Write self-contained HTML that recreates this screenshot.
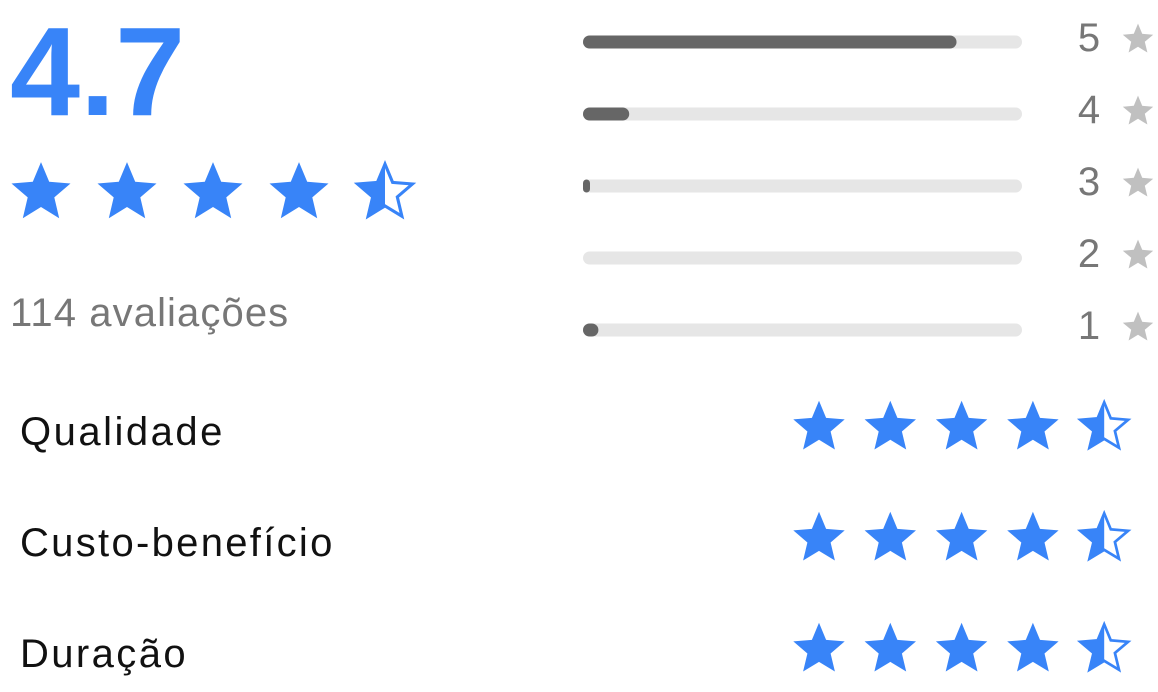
<!DOCTYPE html>
<html><head><meta charset="utf-8"><style>
body{margin:0;width:1158px;height:692px;background:#fff;overflow:hidden;font-family:"Liberation Sans",sans-serif;position:relative}
.t{position:absolute;white-space:nowrap}
</style></head><body>
<div class="t" style="left:10px;top:2px;font-size:126px;font-weight:bold;color:#3884f8;letter-spacing:0px;line-height:140px">4.7</div>
<div class="t" style="left:10px;top:289px;font-size:40px;color:#777;line-height:48px;letter-spacing:1.1px">114 avaliações</div>
<div class="t" style="left:20px;top:408px;font-size:40px;color:#111;line-height:48px;letter-spacing:2.5px">Qualidade</div>
<div class="t" style="left:20px;top:519px;font-size:40px;color:#111;line-height:48px;letter-spacing:2.3px">Custo-benefício</div>
<div class="t" style="left:20px;top:630px;font-size:40px;color:#111;line-height:48px;letter-spacing:2.4px">Duração</div>
<svg id="chart" width="1158" height="692" style="position:absolute;left:0;top:0"></svg>
<script>
const starLevels=[5,4,3,2,1];
const starCounts=[97,12,1,0,4];
const totalReviews=114;
const averageRating=4.5;
const aspectRatings=[4.5,4.5,4.5];
const NS="http://www.w3.org/2000/svg";
const svg=document.getElementById('chart');
function mk(tag,attrs,parent){const e=document.createElementNS(NS,tag);for(const k in attrs)e.setAttribute(k,attrs[k]);(parent||svg).appendChild(e);return e;}
function starPts(cx,cy,r){let p=[];for(let i=0;i<10;i++){const a=-Math.PI/2+i*Math.PI/5;const rr=i%2?r*0.45:r;p.push((cx+rr*Math.cos(a)).toFixed(1)+','+(cy+rr*Math.sin(a)+r*0.1).toFixed(1));}return p.join(' ');}
let clipId=0;
function drawStar(cx,cy,r,fill,color,name){
  const g=mk('g',{});
  
  
  if(fill>=1){mk('polygon',{points:starPts(cx,cy,r),fill:color},g);}
  else{
    const id='c'+(clipId++);
    const cp=mk('clipPath',{id:id},g);
    mk('rect',{x:cx-r,y:cy-r*1.2,width:2*r*fill,height:r*2.6},cp);
    mk('polygon',{points:starPts(cx,cy,r*0.93),fill:'none',stroke:color,'stroke-width':r*0.1},g);
    mk('polygon',{points:starPts(cx,cy,r),fill:color,'clip-path':'url(#'+id+')'},g);
  }
}
for(let i=0;i<5;i++){drawStar(41+i*86,190,31,Math.max(0,Math.min(1,averageRating-i)),'#3884f8','summary-star');}
const x0=583,trackW=439,bh=13;
const xScale=v=>trackW*v/totalReviews;
starLevels.forEach((lv,i)=>{
  const cy=42+i*72;
  const track=mk('rect',{x:x0,y:cy-bh/2,width:trackW,height:bh,rx:bh/2,fill:'#e6e6e6'});
  
  
  const c=starCounts[i];
  if(c>0){
    const w=Math.max(7,xScale(c));
    const bar=mk('rect',{x:x0,y:cy-bh/2,width:w,height:bh,rx:Math.min(bh/2,w/2),fill:'#666'});
    
    
  }
  const t=mk('text',{x:1089,y:cy+9,'font-size':40,fill:'#777','text-anchor':'middle','font-family':'Liberation Sans, sans-serif'});
  t.textContent=lv;
  
  
  drawStar(1138,cy-4,16,1,'#c0c0c0','level-star-'+lv);
});
aspectRatings.forEach((r,j)=>{
  const cy=425+j*111;
  for(let i=0;i<5;i++){drawStar(819+i*71.3,cy,27,Math.max(0,Math.min(1,r-i)),'#3884f8','aspect-star');}
});
</script>
</body></html>
